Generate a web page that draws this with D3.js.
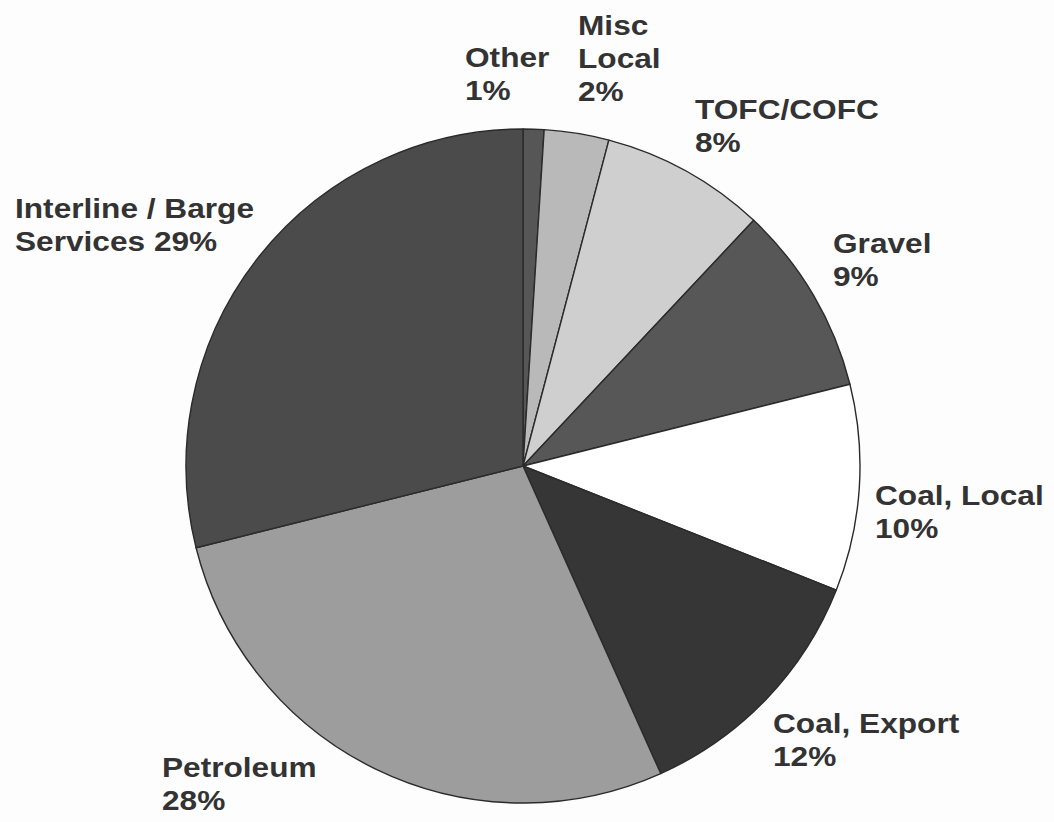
<!DOCTYPE html>
<html>
<head>
<meta charset="utf-8">
<script src="https://cdn.jsdelivr.net/npm/d3@7"></script>
<style>
  html, body { margin: 0; padding: 0; background: #fdfdfd; }
  text { font-family: "Liberation Sans", Arial, sans-serif; font-weight: bold; }
</style>
</head>
<body>
<div id="chart"></div>
<script>
// slices, clockwise from 12 o'clock
const categories = ['Other', 'Misc Local', 'TOFC/COFC', 'Gravel', 'Coal, Local', 'Coal, Export', 'Petroleum', 'Interline / Barge Services'];
const shares = [1.0, 3.1, 7.9, 9.1, 9.9, 12.3, 27.8, 28.9];
const pctLabels = ['1%', '2%', '8%', '9%', '10%', '12%', '28%', '29%'];
// label lines as printed on the chart
const labelLines = [
  ['Other', '1%'],
  ['Misc', 'Local', '2%'],
  ['TOFC/COFC', '8%'],
  ['Gravel', '9%'],
  ['Coal, Local', '10%'],
  ['Coal, Export', '12%'],
  ['Petroleum', '28%'],
  ['Interline / Barge', 'Services 29%']
];

// styling / layout
const fills = ['#565656', '#b9b9b9', '#cfcfcf', '#575757', '#ffffff', '#363636', '#9d9d9d', '#4b4b4b'];
const labelAt = [[465, 67], [578, 35], [695, 119], [833, 253], [875, 505], [773, 733], [162, 777], [15, 218]];

const width = 1054, height = 822;
const cx = 523, cy = 466, radius = 337;
const lineGap = 33, fontSize = 28, stretch = 1.13;

const svg = d3.select('#chart')
  .append('svg')
  .attr('width', width)
  .attr('height', height);

const data = categories.map((c, i) => ({name: c, value: shares[i], pct: pctLabels[i], lines: labelLines[i], fill: fills[i], pos: labelAt[i]}));

const pie = d3.pie().value(d => d.value).sort(null).startAngle(0).endAngle(2 * Math.PI);
const arc = d3.arc().innerRadius(0).outerRadius(radius);

const g = svg.append('g').attr('transform', `translate(${cx},${cy})`);

g.selectAll('path.slice')
  .data(pie(data))
  .enter()
  .append('path')
  .attr('class', 'slice')
  .attr('d', arc)
  .attr('fill', d => d.data.fill)
  .attr('stroke', '#2b2b2b')
  .attr('stroke-width', 1.4)
  .attr('stroke-linejoin', 'round');

// labels
const labels = svg.selectAll('g.lbl')
  .data(data)
  .enter()
  .append('g')
  .attr('class', 'lbl')
  .attr('transform', d => `translate(${d.pos[0]},${d.pos[1]}) scale(${stretch},1)`);

labels.append('text')
  .attr('fill', '#333')
  .style('font-size', fontSize + 'px')
  .selectAll('tspan')
  .data(d => d.lines)
  .enter()
  .append('tspan')
  .attr('x', 0)
  .attr('y', (d, i) => i * lineGap)
  .text(d => d);
</script>
</body>
</html>
